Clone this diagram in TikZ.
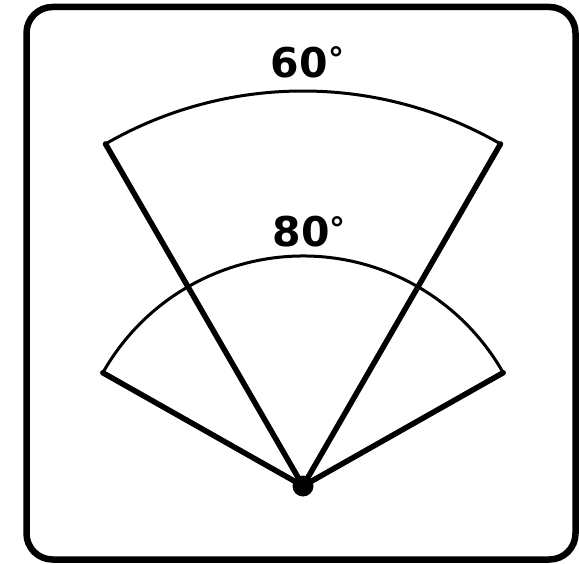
\documentclass[tikz,border=0pt]{standalone}
\usepackage{fontspec}
\newfontfamily\labelfont{DejaVu Sans}
\newcommand{\smalldeg}{\raisebox{6.5pt}{\fontsize{32}{32}\selectfont °}}
\begin{document}
\begin{tikzpicture}[x=1pt,y=-1pt,
  frame/.style={line width=6.5pt, rounded corners=26pt},
  ray/.style={line width=5.5pt, line cap=round},
  rim/.style={line width=3pt},
  angletext/.style={font=\labelfont\bfseries\fontsize{41}{41}\selectfont, inner sep=0pt, anchor=center}]
\useasboundingbox (0,0) rectangle (579,564);
\draw[frame] (26.5,7) rectangle (575.5,559.5);
\coordinate (apex) at (303,486);
% 60 degree sector
\coordinate (a1) at ([shift={(-120:395)}]apex);
\coordinate (a2) at ([shift={(-60:395)}]apex);
% wide sector (labelled 80)
\coordinate (b1) at ([shift={(-150.5:230)}]apex);
\coordinate (b2) at ([shift={(-29.5:230)}]apex);
\draw[rim] (a1) arc[start angle=-120, end angle=-60, radius=395];
\draw[rim] (b1) arc[start angle=-150.5, end angle=-29.5, radius=230];
\draw[ray] (a1) -- (apex) -- (a2);
\draw[ray] (b1) -- (apex) -- (b2);
\fill (apex) circle[radius=10.5];
\node[angletext] (t60) at (307.5,62.5) {60\smalldeg};
\node[angletext] (t80) at (309,232) {80\smalldeg};
\end{tikzpicture}
\end{document}
